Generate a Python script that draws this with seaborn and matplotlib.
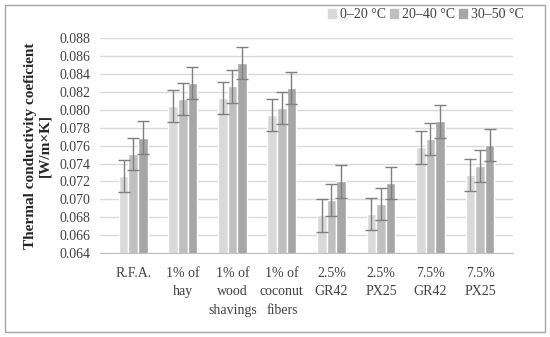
import numpy as np
import pandas as pd
import matplotlib
matplotlib.use("Agg")
import matplotlib.pyplot as plt
import seaborn as sns
from matplotlib.patches import Rectangle

# Data
categories = ["R.F.A.", "1% of\nhay", "1% of\nwood\nshavings", "1% of\ncoconut\nfibers",
              "2.5%\nGR42", "2.5%\nPX25", "7.5%\nGR42", "7.5%\nPX25"]
series = ["0\u201320 \u00b0C", "20\u201340 \u00b0C", "30\u201350 \u00b0C"]
vals_0_20 = [0.0726, 0.0804, 0.0813, 0.0794, 0.0682, 0.0684, 0.0758, 0.0727]
vals_20_40 = [0.0751, 0.0812, 0.0826, 0.0802, 0.0699, 0.0695, 0.0767, 0.0737]
vals_30_50 = [0.0769, 0.0830, 0.0852, 0.0824, 0.0720, 0.0718, 0.0787, 0.0761]
err_0_20 = [0.0018] * 8
err_20_40 = [0.0018] * 8
err_30_50 = [0.0018] * 8

colors = ["#d9d9d9", "#bfbfbf", "#a6a6a6"]

rows = []
for s, vals, errs in zip(series, [vals_0_20, vals_20_40, vals_30_50],
                         [err_0_20, err_20_40, err_30_50]):
    for c, v, e in zip(categories, vals, errs):
        rows.append({"category": c, "series": s, "value": v, "err": e})
df = pd.DataFrame(rows)

sns.set_style("white")
plt.rcParams["font.family"] = ["Liberation Serif", "DejaVu Serif"]

fig = plt.figure(figsize=(5.5, 3.37), dpi=100)
ax = fig.add_axes([0.182, 0.249, 0.751, 0.638])

sns.barplot(data=df, x="category", y="value", hue="series", order=categories,
            hue_order=series, palette=colors, width=0.58, errorbar=None,
            saturation=1, ax=ax, legend=False, zorder=2)

# error bars at each bar centre
for i, s in enumerate(series):
    sub = df[df["series"] == s].set_index("category").loc[categories]
    bars = ax.containers[i]
    xs = [b.get_x() + b.get_width() / 2 for b in bars]
    ax.errorbar(xs, sub["value"], yerr=sub["err"], fmt="none", ecolor="#7f7f7f",
                elinewidth=1, capsize=4, capthick=1, zorder=3)

ax.set_ylim(0.064, 0.088)
ax.set_yticks(np.arange(0.064, 0.0881, 0.002))
ax.yaxis.set_major_formatter(matplotlib.ticker.FormatStrFormatter("%.3f"))
ax.grid(axis="y", color="#d9d9d9", linewidth=1, zorder=0)
ax.set_axisbelow(True)
for sp in ["top", "right", "left"]:
    ax.spines[sp].set_visible(False)
ax.spines["bottom"].set_color("#bfbfbf")
ax.tick_params(axis="y", length=0, labelsize=10, colors="#404040", pad=7)
ax.tick_params(axis="x", length=0, labelsize=10, colors="#404040", pad=10)
ax.set_xlabel("")
ax.set_ylabel("Thermal conductivity coeficient\n[W/m\u00d7K]", fontsize=11,
              fontweight="bold", color="#262626", linespacing=1.1, labelpad=6)
for lab in ax.get_xticklabels():
    lab.set_verticalalignment("top")
    lab.set_linespacing(1.55)

handles = [Rectangle((0, 0), 1, 1, color=c) for c in colors]
fig.legend(handles, series, loc="upper right", bbox_to_anchor=(0.952, 0.975), ncol=3,
           frameon=False, fontsize=10, handlelength=0.6, handleheight=0.6,
           handletextpad=0.25, columnspacing=0.3, borderpad=0, borderaxespad=0,
           labelcolor="#404040")

# outer frame
fig.patches.append(Rectangle((0.009, 0.015), 0.982, 0.97, transform=fig.transFigure,
                             fill=False, edgecolor="#a6a6a6", linewidth=1))

fig.savefig("out.png", dpi=100)
